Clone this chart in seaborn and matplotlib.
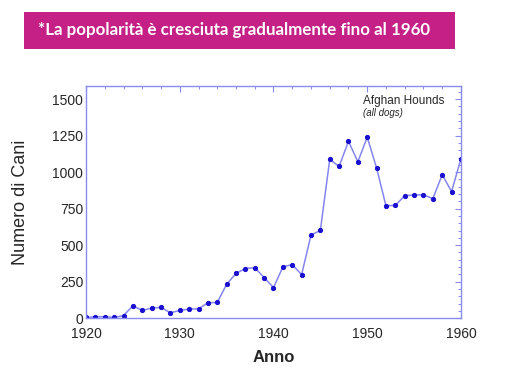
import matplotlib.pyplot as plt
import matplotlib.patches as mpatches
from matplotlib.ticker import MultipleLocator
import pandas as pd
import seaborn as sns

years = list(range(1920, 1961))
dogs = [5, 10, 10, 5, 18, 85, 53, 69, 74, 37,
        53, 62, 64, 105, 108, 232, 307, 340, 346, 278,
        209, 351, 367, 298, 569, 601, 1087, 1039, 1211, 1071,
        1239, 1028, 769, 773, 838, 844, 844, 819, 982, 867,
        1092]

title_text = "*La popolarità è cresciuta gradualmente fino al 1960"
x_label = "Anno"
y_label = "Numero di Cani"
legend_main = "Afghan Hounds"
legend_sub = "(all dogs)"

LINE = "#8585f2"
DOT = "#1a10d0"
FRAME = "#8a8af0"


def main():
    df = pd.DataFrame({"Anno": years, "Cani": dogs})

    sns.set_style("white")
    plt.rcParams["font.family"] = ["Liberation Sans", "DejaVu Sans"]

    fig = plt.figure(figsize=(5.06, 3.77), dpi=100)
    ax = fig.add_axes([0.170, 0.156, 0.741, 0.616])

    sns.lineplot(data=df, x="Anno", y="Cani", ax=ax, color=LINE, linewidth=1.1,
                 marker="o", markersize=3.0, markerfacecolor=DOT,
                 markeredgecolor=DOT)

    ax.set_xlim(1920, 1960)
    ax.set_ylim(0, 1590)
    ax.xaxis.set_major_locator(MultipleLocator(10))
    ax.xaxis.set_minor_locator(MultipleLocator(2))
    ax.yaxis.set_major_locator(MultipleLocator(250))
    ax.yaxis.set_minor_locator(MultipleLocator(50))
    ax.tick_params(which="both", direction="in", top=True, right=True,
                   color=FRAME, labelsize=10, pad=2)
    ax.tick_params(axis="x", which="major", pad=6)
    ax.tick_params(which="major", length=4, width=0.8)
    ax.tick_params(which="minor", length=2, width=0.7)
    for s in ax.spines.values():
        s.set_color(FRAME)
        s.set_linewidth(1.0)

    ax.set_xlabel(x_label, fontsize=12, fontweight="bold", labelpad=7)
    ax.set_ylabel(y_label, fontsize=13, labelpad=17)

    ax.text(0.739, 0.935, legend_main, transform=ax.transAxes, ha="left",
            va="center", fontsize=8.5)
    ax.text(0.739, 0.884, legend_sub, transform=ax.transAxes, ha="left",
            va="center", fontsize=7, style="italic")

    fig.patches.append(mpatches.Rectangle((24 / 506, 1 - 49 / 377), 431 / 506, 37 / 377,
                                          transform=fig.transFigure,
                                          facecolor="#c42086", edgecolor="none"))
    fig.text(38 / 506, 1 - 30.5 / 377, title_text, color="white", fontsize=12.2,
             fontweight="bold", va="center", ha="left",
             family=["Lato", "DejaVu Sans"])

    fig.savefig("out.png", dpi=100)


if __name__ == "__main__":
    main()
